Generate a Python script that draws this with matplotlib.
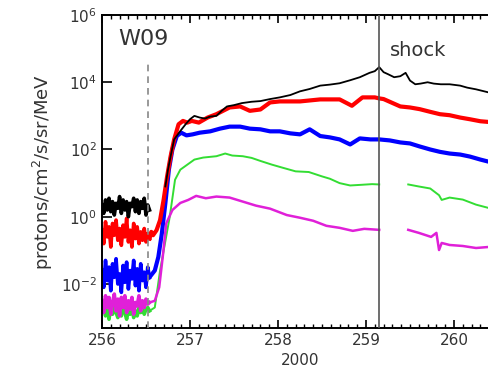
import matplotlib
matplotlib.use('Agg')
import matplotlib.pyplot as plt
import numpy as np
from matplotlib.ticker import MultipleLocator, NullLocator

# pre-event times (day of year 2000), shared by all channels
t_pre = [256.00, 256.02, 256.04, 256.06, 256.08, 256.10, 256.12, 256.14, 256.16, 256.18,
         256.20, 256.22, 256.24, 256.26, 256.28, 256.30, 256.32, 256.34, 256.36, 256.38,
         256.40, 256.42, 256.44, 256.46, 256.48, 256.50, 256.52, 256.54]

# log10 of flux
black_pre = [0.35, 0.10, 0.50, 0.20, 0.55, 0.15, 0.45, 0.05, 0.40, 0.25, 0.60, 0.10, 0.50, 0.20,
             0.45, 0.00, 0.40, 0.30, 0.55, 0.15, 0.50, 0.10, 0.45, 0.25, 0.55, 0.05, 0.35, 0.20]
red_pre = [-0.40, -0.80, -0.15, -0.60, -0.30, -0.90, -0.20, -0.55, -0.10, -0.70, -0.35, -0.85, -0.25, -0.60,
           -0.05, -0.75, -0.40, -0.90, -0.20, -0.65, -0.30, -0.80, -0.45, -0.70, -0.35, -0.75, -0.50, -0.65]
blue_pre = [-1.60, -2.10, -1.30, -1.90, -1.50, -2.20, -1.40, -1.80, -1.25, -2.00, -1.70, -2.25, -1.45, -1.95,
            -1.35, -2.15, -1.60, -1.85, -1.30, -2.05, -1.55, -2.20, -1.40, -1.90, -1.65, -2.10, -1.50, -1.80]
green_pre = [-2.80, -2.60, -2.95, -2.70, -3.05, -2.65, -2.90, -2.55, -2.85, -3.00, -2.70, -2.95, -2.60, -2.85,
             -3.05, -2.75, -2.90, -2.65, -3.00, -2.80, -2.95, -2.70, -2.85, -2.60, -2.90, -2.75, -2.70, -2.80]
magenta_pre = [-2.50, -2.85, -2.35, -2.70, -2.40, -2.90, -2.55, -2.30, -2.80, -2.45, -2.95, -2.40, -2.70, -2.35,
               -2.85, -2.50, -2.75, -2.40, -2.90, -2.55, -2.65, -2.35, -2.80, -2.50, -2.70, -2.45, -2.60, -2.55]

# event part
black_t = [256.72, 256.75, 256.78, 256.82, 256.89, 256.95, 257.00, 257.05, 257.11, 257.17, 257.23, 257.30, 257.36,
           257.42, 257.50, 257.59, 257.70, 257.80, 257.91, 258.02, 258.14, 258.25, 258.36, 258.48, 258.59, 258.70,
           258.82, 258.93, 259.04, 259.10, 259.15, 259.20, 259.25, 259.32, 259.39, 259.45, 259.50, 259.56,
           259.62, 259.70, 259.77, 259.85, 259.95, 260.07, 260.15, 260.25, 260.39]
black_v = [0.90, 1.40, 1.80, 2.30, 2.55, 2.75, 2.90, 3.00, 2.95, 2.92, 2.98, 3.00, 3.15,
           3.28, 3.32, 3.38, 3.42, 3.44, 3.50, 3.55, 3.62, 3.73, 3.80, 3.90, 3.93, 3.97,
           4.06, 4.15, 4.28, 4.33, 4.45, 4.30, 4.24, 4.15, 4.18, 4.28, 4.05, 3.94,
           3.96, 4.00, 3.96, 3.94, 3.94, 3.90, 3.84, 3.79, 3.70]

red_t = [256.54, 256.56, 256.58, 256.62, 256.66, 256.70, 256.74, 256.78, 256.82, 256.87, 256.92, 256.97, 257.02,
         257.10, 257.20, 257.30, 257.36, 257.45, 257.57, 257.68, 257.80, 257.91, 258.02, 258.25, 258.48,
         258.70, 258.84, 258.96, 259.10, 259.15, 259.20, 259.39, 259.50, 259.61, 259.73, 259.84, 259.95,
         260.07, 260.18, 260.30, 260.39]
red_v = [-0.65, -0.45, -0.55, -0.40, -0.10, 0.50, 1.20, 1.80, 2.30, 2.75, 2.85, 2.80, 2.85,
         2.80, 2.95, 3.05, 3.13, 3.25, 3.28, 3.15, 3.19, 3.40, 3.43, 3.43, 3.49,
         3.49, 3.30, 3.55, 3.55, 3.52, 3.50, 3.28, 3.25, 3.20, 3.12, 3.05, 3.02,
         2.95, 2.90, 2.84, 2.82]

blue_t = [256.54, 256.60, 256.64, 256.68, 256.72, 256.76, 256.80, 256.85, 256.90, 256.96, 257.03, 257.11, 257.23,
          257.34, 257.45, 257.57, 257.68, 257.80, 257.91, 258.02, 258.14, 258.25, 258.36, 258.48, 258.59,
          258.70, 258.82, 258.93, 259.05, 259.15, 259.27, 259.39, 259.50, 259.61, 259.73, 259.84, 259.95,
          260.07, 260.18, 260.30, 260.39]
blue_v = [-1.80, -1.60, -1.20, -0.50, 0.40, 1.40, 2.00, 2.40, 2.50, 2.42, 2.45, 2.50, 2.54,
          2.62, 2.68, 2.68, 2.62, 2.60, 2.54, 2.54, 2.48, 2.45, 2.60, 2.40, 2.36,
          2.30, 2.15, 2.33, 2.30, 2.30, 2.27, 2.21, 2.18, 2.09, 2.00, 1.93, 1.88,
          1.85, 1.79, 1.70, 1.64]

green_t = [256.54, 256.60, 256.66, 256.77, 256.83, 256.89, 256.97, 257.05, 257.15, 257.30, 257.40, 257.48, 257.60,
           257.70, 257.80, 257.93, 258.05, 258.20, 258.35, 258.50, 258.59, 258.70, 258.82, 258.95, 259.07,
           259.15, 259.30, 259.48, 259.60, 259.73, 259.83, 259.86, 259.95, 260.10, 260.25, 260.38]
green_v = [-2.80, -2.70, -1.60, 0.00, 1.10, 1.40, 1.55, 1.70, 1.76, 1.80, 1.88, 1.82, 1.80,
           1.75, 1.66, 1.55, 1.46, 1.35, 1.33, 1.20, 1.13, 1.00, 0.93, 0.95, 0.97,
           0.96, np.nan, 0.96, 0.90, 0.84, 0.64, 0.50, 0.57, 0.51, 0.36, 0.27]

magenta_t = [256.54, 256.60, 256.65, 256.69, 256.73, 256.80, 256.89, 256.98, 257.07, 257.18, 257.30, 257.45, 257.60,
             257.75, 257.91, 258.10, 258.25, 258.40, 258.55, 258.70, 258.85, 258.98, 259.15, 259.30, 259.48,
             259.60, 259.74, 259.80, 259.83, 259.86, 259.95, 260.10, 260.25, 260.39]
magenta_v = [-2.55, -2.50, -2.10, -1.20, -0.20, 0.20, 0.41, 0.50, 0.62, 0.55, 0.60, 0.57, 0.45,
             0.33, 0.24, 0.05, -0.03, -0.12, -0.27, -0.33, -0.42, -0.36, -0.39, np.nan, -0.39,
             -0.48, -0.60, -0.48, -0.99, -0.78, -0.84, -0.87, -0.93, -0.90]

onset_day = 256.52
shock_day = 259.15

plt.rcParams['font.family'] = ['DejaVu Sans']
fig = plt.figure(figsize=(4.88, 3.88), dpi=100)
ax = fig.add_axes([0.209, 0.1546, 0.8115, 0.8067])

# (pre values, event times, event values, colour, line width, z-order)
series = [
    (blue_pre, blue_t, blue_v, '#0000ff', 3.0, 2.1),
    (green_pre, green_t, green_v, '#33dd33', 1.4, 2.2),
    (magenta_pre, magenta_t, magenta_v, '#e020d8', 1.8, 2.3),
    (red_pre, red_t, red_v, '#ff0000', 3.0, 2.4),
    (black_pre, black_t, black_v, 'black', 1.3, 2.5),
]
for vp, te, ve, c, lw, z in series:
    ax.plot(t_pre, 10.0 ** np.array(vp), color=c, lw=2.6, zorder=z)
    ax.plot(te, 10.0 ** np.array(ve), color=c, lw=lw, zorder=z)

ax.axvline(onset_day, ymax=0.85, color='#888888', ls=(0, (4, 3)), lw=1.2, zorder=3)
ax.axvline(shock_day, color='#555555', lw=1.2, zorder=3)

ax.text(256.18, 10 ** 5.3, 'W09', fontsize=16, color='#333333', va='center')
ax.text(259.27, 10 ** 4.95, 'shock', fontsize=14, color='#333333', va='center')

ax.set_yscale('log')
ax.set_ylim(10 ** -3.31, 1e6)
ax.set_xlim(256, 260.5)
ax.set_yticks([1e-2, 1, 1e2, 1e4, 1e6])
ax.yaxis.set_minor_locator(NullLocator())
ax.xaxis.set_major_locator(MultipleLocator(1))
ax.xaxis.set_minor_locator(MultipleLocator(0.1))
ax.tick_params(axis='x', which='both', direction='in', top=True)
ax.tick_params(axis='x', which='major', length=6, width=1.2)
ax.tick_params(axis='x', which='minor', length=3, width=1)
ax.tick_params(axis='y', which='major', direction='in', length=7, width=1.2)
ax.tick_params(labelsize=11, colors='black', labelcolor='#333333')
for s in ax.spines.values():
    s.set_linewidth(1.4)

ax.set_xlabel('2000', fontsize=11, color='#333333')
ax.set_ylabel('protons/cm$^2$/s/sr/MeV', fontsize=13, color='#333333', labelpad=4)

fig.savefig('out.png', dpi=100)
